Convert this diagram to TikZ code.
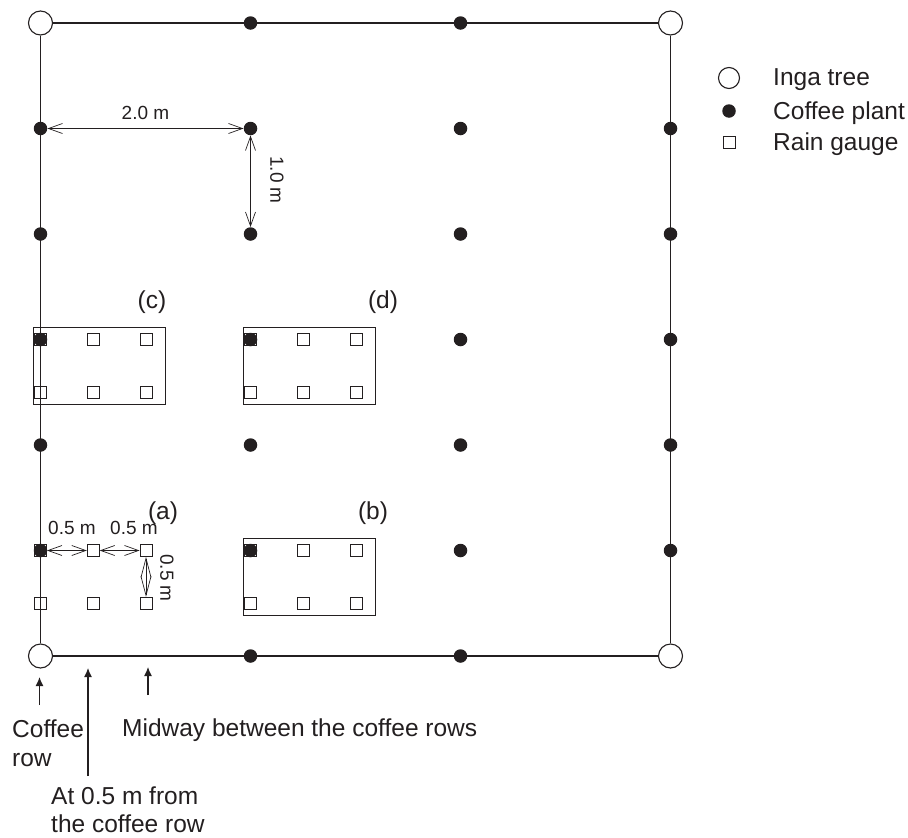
\documentclass[tikz,border=0pt]{standalone}
\usepackage{fontspec}
\setmainfont{Liberation Sans}
\usetikzlibrary{arrows.meta,calc}
\definecolor{ink}{HTML}{231F20}
\begin{document}
\begin{tikzpicture}[x=1pt,y=-1pt,
  inga/.style={circle,draw=ink,fill=white,line width=1.1pt,minimum size=24pt,inner sep=0pt},
  coffee/.style={circle,fill=ink,minimum size=13.5pt,inner sep=0pt},
  gauge/.style={rectangle,draw=ink,line width=0.9pt,minimum size=12pt,inner sep=0pt},
  border/.style={draw=ink,line width=1.2pt},
  dim/.style={draw=ink,line width=0.7pt,{Straight Barb[length=14pt,width=10pt]}-{Straight Barb[length=14pt,width=10pt]}},
  dimv/.style={draw=ink,line width=0.7pt,{Straight Barb[length=19pt,width=10pt]}-{Straight Barb[length=19pt,width=10pt]}},
  pointer/.style={draw=ink,line width=1.2pt,-{Latex[length=9pt,width=8pt]}},
  lbl/.style={font=\fontsize{24.5}{29.5}\selectfont,inner sep=0pt,text=ink},
  dimlbl/.style={font=\fontsize{19}{23}\selectfont,inner sep=0pt,text=ink},
  plotbox/.style={draw=ink,line width=1pt}
]
\useasboundingbox (0,0) rectangle (908,838);

% rain gauges of the four plots
\foreach \n/\ox/\oy in {a/40.5/550.5, b/250.5/550.5, c/40.5/339.5, d/250.5/339.5} {
  \foreach \c in {0,1,2} {
    \foreach \r in {0,1} {
      \node[gauge] (g\n\c\r) at ({\ox+52.75*\c},{\oy+52.75*\r}) {};
    }
  }
}

% grid of trees and coffee plants
\foreach \i in {0,1,2,3} {
  \foreach \j in {0,...,6} {
    \pgfmathtruncatemacro{\corner}{((\i==0)||(\i==3))&&((\j==0)||(\j==6))}
    \ifnum\corner=1
      \node[inga] (p\i\j) at ({40.5+210*\i},{23+105.5*\j}) {};
    \else
      \node[coffee] (p\i\j) at ({40.5+210*\i},{23+105.5*\j}) {};
    \fi
  }
}

% plot border
\draw[border] (p00) -- (p30);
\draw[border] (p30) -- (p36);
\draw[border] (p36) -- (p06);
\draw[border] (p06) -- (p00);

% plot boxes
\foreach \n in {b,c,d} {
  \draw[plotbox] ($(g\n00.center)+(-7.5,-12)$) rectangle ($(g\n21.center)+(19.5,12.5)$);
}

% plot labels
\node[lbl] (la) at (163,513) {(a)};
\node[lbl] (lb) at (373,513) {(b)};
\node[lbl] (lc) at (152,302) {(c)};
\node[lbl] (ld) at (383,302) {(d)};

% dimensions
\draw[dim] (p01) -- (p11);
\node[dimlbl] (d20) at (145.5,113) {2.0 m};
\draw[dim] (p11) -- (p12);
\node[dimlbl,rotate=-90] (d10) at (277,180) {1.0 m};
\draw[dim] (ga00) -- (ga10);
\node[dimlbl] (d05a) at (72,528) {0.5 m};
\draw[dim] (ga10) -- (ga20);
\node[dimlbl] (d05b) at (134,528) {0.5 m};
\draw[dimv] (ga20) -- (ga21);
\node[dimlbl,rotate=-90] (d05c) at (167,578) {0.5 m};

% pointers below the plot
\coordinate (c1s) at (39.5,705);
\coordinate (c1e) at (39.5,677);
\coordinate (c2s) at (88,776);
\coordinate (c2e) at (88,668);
\coordinate (c3s) at (148,695);
\coordinate (c3e) at (148,667);
\draw[pointer] (c1s) -- (c1e);
\draw[pointer] (c2s) -- (c2e);
\draw[pointer] (c3s) -- (c3e);
\node[lbl,align=left,anchor=west] (t1) at (12,743) {Coffee\\row};
\node[lbl,anchor=west] (t3) at (122,730) {Midway between the coffee rows};
\node[lbl,align=left,anchor=west,font=\fontsize{24.5}{28}\selectfont] (t2) at (51,810) {At 0.5 m from\\the coffee row};

% legend
\node[inga,minimum size=21pt] (k1) at (729,78) {};
\node[coffee] (k2) at (729,111) {};
\node[gauge] (k3) at (729,142) {};
\node[lbl,anchor=west] (k1t) at (773,80) {Inga tree};
\node[lbl,anchor=west] (k2t) at (773,113) {Coffee plant};
\node[lbl,anchor=west] (k3t) at (773,144) {Rain gauge};
\end{tikzpicture}
\end{document}
